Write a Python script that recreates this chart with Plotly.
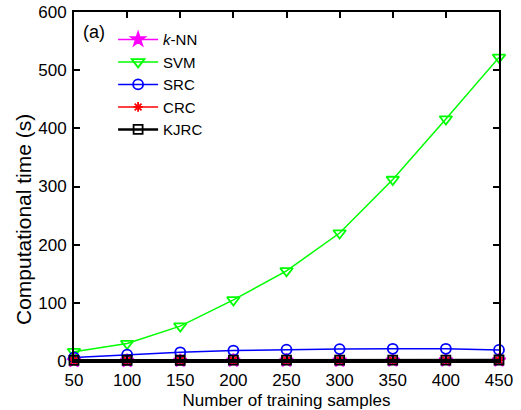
import plotly.graph_objects as go

# Training set sizes and computational time (s) for each classifier
samples = [50, 100, 150, 200, 250, 300, 350, 400, 450]
knn_time = [0.3, 0.4, 0.5, 0.6, 0.7, 0.8, 0.9, 1.0, 1.1]
svm_time = [16, 30, 60, 105, 155, 220, 312, 416, 522]
src_time = [6, 11, 15, 18, 19.5, 20.5, 21, 21, 19]
crc_time = [1.0, 1.0, 1.1, 1.1, 1.2, 1.2, 1.3, 1.3, 1.4]
kjrc_time = [1.2, 1.3, 1.3, 1.4, 1.5, 1.5, 1.6, 1.6, 1.7]

x_ticks = [50, 100, 150, 200, 250, 300, 350, 400, 450]
y_ticks = [0, 100, 200, 300, 400, 500, 600]

series = [
    ("<i>k</i>-NN", knn_time, "#ff00ff", "star", 10, 1.5),
    ("SVM", svm_time, "#00ff00", "triangle-down-open", 11, 1.5),
    ("SRC", src_time, "#0000ff", "circle-open", 10, 1.5),
    ("CRC", crc_time, "#ff0000", "asterisk-open", 8, 1.5),
    ("KJRC", kjrc_time, "#000000", "square-open", 9, 2.5),
]

FONT = "Liberation Sans, Arial"

fig = go.Figure()
for name, vals, color, symbol, size, width in series:
    fig.add_trace(go.Scatter(
        x=samples, y=vals, name=name, mode="lines+markers",
        line=dict(color=color, width=width),
        marker=dict(symbol=symbol, size=size, color=color,
                    line=dict(color=color, width=1.8)),
        cliponaxis=False,
    ))

axis_style = dict(
    showline=True, linecolor="black", linewidth=2, mirror="ticks",
    ticks="inside", ticklen=6, tickwidth=1.5, tickcolor="black",
    showgrid=False, zeroline=False, automargin=False,
    tickfont=dict(family=FONT, size=17, color="black"),
)

fig.update_layout(
    width=521, height=410,
    margin=dict(l=74, r=22, t=12, b=49),
    paper_bgcolor="white", plot_bgcolor="white",
    font=dict(family=FONT, color="black"),
    xaxis=dict(range=[50, 450], tickvals=x_ticks, ticklabelstandoff=3,
               title=dict(text="Number of training samples", font=dict(size=17)),
               **axis_style),
    yaxis=dict(range=[0, 600], tickvals=y_ticks, ticklabelstandoff=2,
               **axis_style),
    legend=dict(x=0.092, y=0.968, xanchor="left", yanchor="top",
                bgcolor="rgba(0,0,0,0)", borderwidth=0,
                font=dict(family=FONT, size=15, color="black"), tracegroupgap=0,
                itemwidth=40),
    showlegend=True,
    annotations=[
        dict(text="(a)", x=0.016, y=0.978, xref="paper", yref="paper",
             xanchor="left", yanchor="top", showarrow=False,
             font=dict(family=FONT, size=18, color="black")),
        dict(text="Computational time (s)", textangle=-90,
             x=-51 / 425, y=0.404, xref="paper", yref="paper",
             xanchor="center", yanchor="middle", showarrow=False,
             font=dict(family=FONT, size=21, color="black")),
    ],
)

fig.write_html("out.html")
